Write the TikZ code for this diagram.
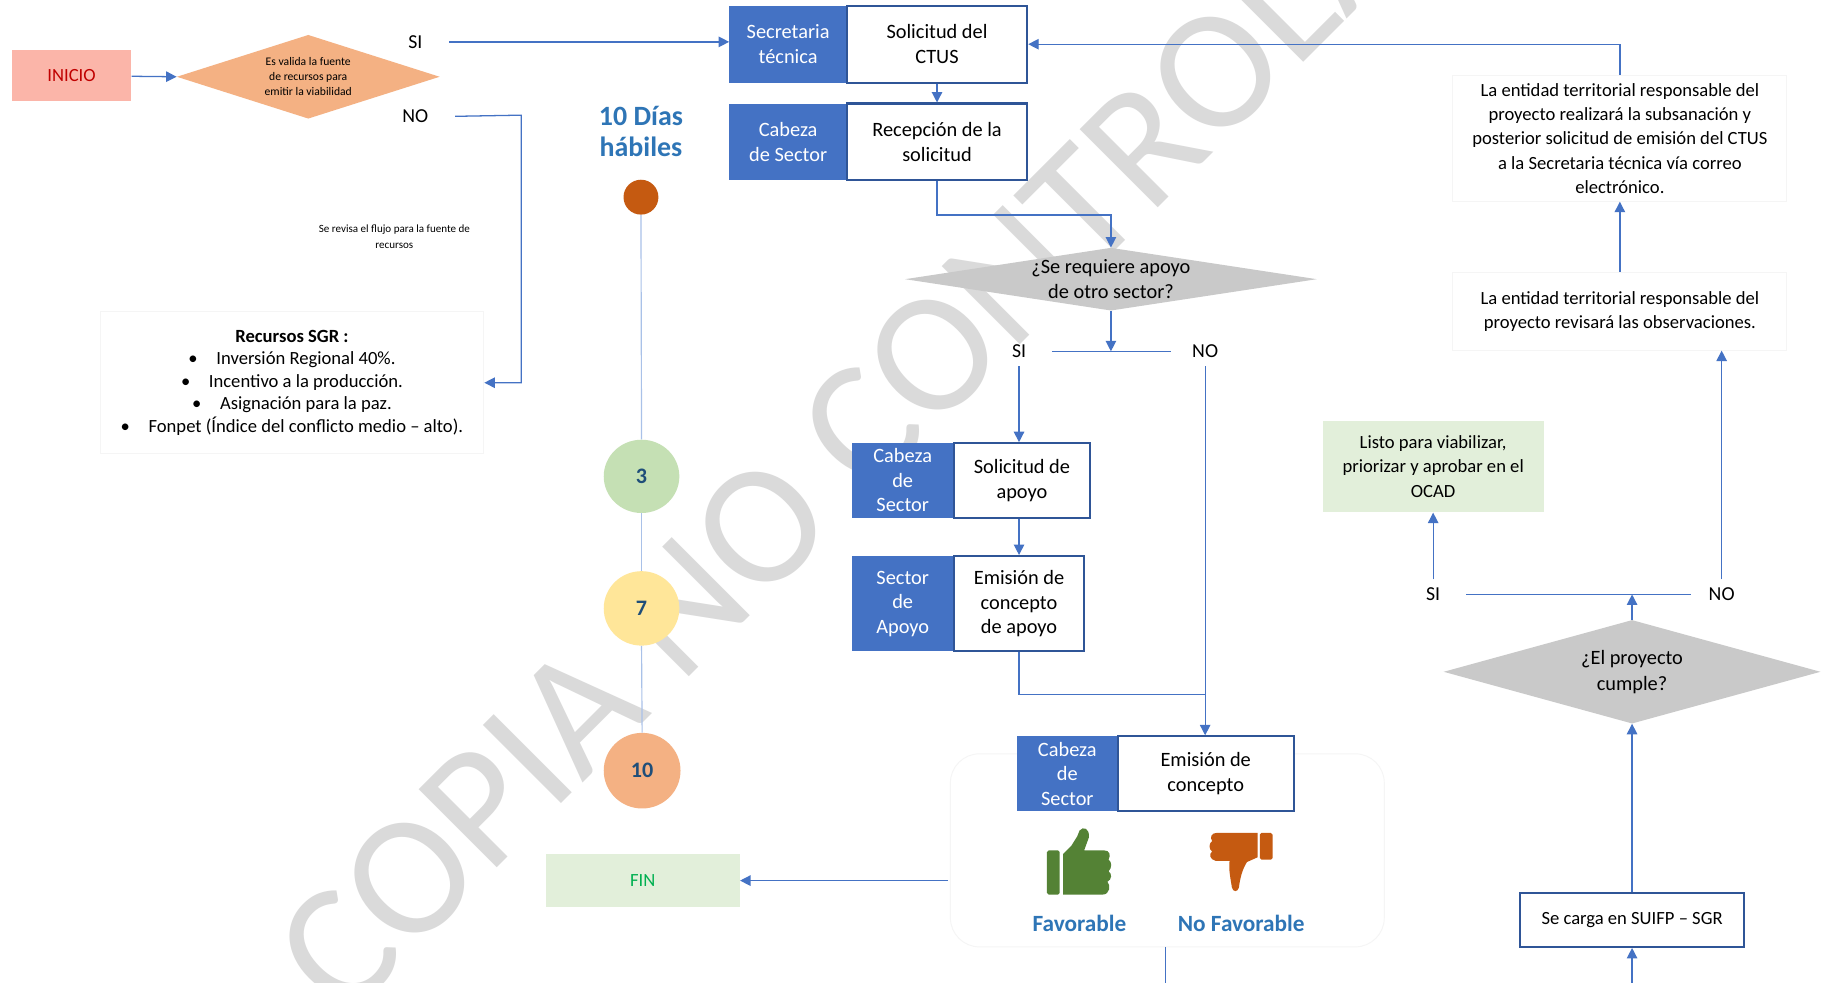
\documentclass[tikz,border=0pt]{standalone}
\usepackage{fontspec}
\setmainfont{Carlito}
\usetikzlibrary{arrows.meta,shapes.geometric,calc}
\definecolor{bfill}{HTML}{4472C4}
\definecolor{bdark}{HTML}{2F5597}
\definecolor{lnblue}{HTML}{4472C4}
\definecolor{tlblue}{HTML}{A9C1E8}
\definecolor{inifill}{HTML}{FBB5A9}
\definecolor{inired}{HTML}{C00000}
\definecolor{orangef}{HTML}{F4B183}
\definecolor{grayd}{HTML}{C9C9C9}
\definecolor{greenf}{HTML}{E2EFDA}
\definecolor{fingreen}{HTML}{00B050}
\definecolor{darkor}{HTML}{C55A11}
\definecolor{cthree}{HTML}{C5E0B4}
\definecolor{cseven}{HTML}{FFE699}
\definecolor{numblue}{HTML}{1F4E79}
\definecolor{txtblue}{HTML}{2E75B6}
\definecolor{thumbg}{HTML}{548235}
\definecolor{wmark}{HTML}{DADADA}
\definecolor{faint}{HTML}{F5F5F5}
\begin{document}
\begin{tikzpicture}[x=1pt,y=-1pt,
  ln/.style={draw=lnblue,line width=1.1pt},
  arr/.style={ln,-{Triangle[length=9pt,width=9pt]}},
  tl/.style={draw=tlblue,line width=1pt},
  lab/.style={fill=bfill,text=white,inner sep=0pt,align=center,font=\fontsize{17.5}{21}\selectfont},
  act/.style={draw=bdark,line width=1.8pt,fill=white,inner sep=0pt,align=center,font=\fontsize{17.5}{21}\selectfont},
  txt/.style={inner sep=0pt,align=center,font=\fontsize{16}{20.8}\selectfont},
  yn/.style={inner sep=0pt,font=\fontsize{17}{20}\selectfont},
  circ/.style={ellipse,inner sep=0pt,font=\bfseries\fontsize{19}{22}\selectfont,text=numblue},
  dia/.style={diamond,inner sep=0pt,aspect=3},
]
\useasboundingbox (0,0) rectangle (1568,845);
\fill[white] (0,0) rectangle (1568,845);
% watermark
\begin{scope}
\clip (0,0) rectangle (1568,845);
\node[rotate=45,anchor=base west,inner sep=0pt,text=wmark,font=\fontsize{148}{148}\selectfont] (wm) at (296,878) {COPIA NO CONTROLADA};
\end{scope}
% faint frames
\draw[faint,line width=0.8pt,rounded corners=25pt] (817,648) rectangle (1190,814);

% start
\node[fill=inifill,minimum width=103pt,minimum height=44pt,inner sep=0pt,text=inired,font=\fontsize{16}{19}\selectfont] (inicio) at (61.5,65) {INICIO};
\node[dia,fill=orangef,minimum width=226pt,minimum height=72pt] (d1) at (265,66) {};
\node[inner sep=0pt,align=center,font=\fontsize{10}{13}\selectfont] (d1t) at (d1.center) {Es valida la fuente\\de recursos para\\emitir la viabilidad};
\node[yn] (si1) at (357,36) {SI};
\node[yn] (no1) at (357,100) {NO};
\node[inner sep=0pt,align=center,font=\fontsize{9.5}{13}\selectfont] (rev) at (339,203.5) {Se revisa el flujo para la fuente de\\recursos};
\node[draw=faint,line width=0.8pt,minimum width=330pt,minimum height=122pt,inner sep=0pt,align=center,font=\fontsize{16}{19.3}\selectfont] (sgr) at (251,329)
 {\textbf{Recursos SGR :}\\
  \textbullet\hspace{16pt}Inversión Regional 40\%.\\
  \textbullet\hspace{16pt}Incentivo a la producción.\\
  \textbullet\hspace{16pt}Asignación para la paz.\\
  \textbullet\hspace{16pt}Fonpet (Índice del conflicto medio -- alto).};

% timeline
\node[inner sep=0pt,align=center,text=txtblue,font=\bfseries\fontsize{24}{26}\selectfont] (dias) at (551,113) {10 Días\\hábiles};
\node[circle,fill=darkor,minimum size=30pt,inner sep=0pt] (c0) at (551,169.5) {};
\node[circ,fill=cthree,minimum width=65pt,minimum height=63pt] (c3) at (551.5,409.5) {3};
\node[circ,fill=cseven,minimum width=65pt,minimum height=64pt] (c7) at (551.5,523) {7};
\node[circ,fill=orangef,minimum width=66pt,minimum height=65pt] (c10) at (552,662.5) {10};
\draw[tl] (c0.south) -- (c3.north);
\draw[tl] (c3.south) -- (c7.north);
\draw[tl] (c7.south) -- (c10.north);

% central column
\node[lab,minimum width=101pt,minimum height=66pt] (st) at (677.5,38) {Secretaria\\técnica};
\node[act,minimum width=155pt,minimum height=66pt] (sc) at (805.5,38) {Solicitud del\\CTUS};
\node[lab,minimum width=101pt,minimum height=66pt] (cs1) at (677.5,122) {Cabeza\\de Sector};
\node[act,minimum width=155pt,minimum height=66pt] (rc) at (805.5,122) {Recepción de la\\solicitud};
\node[dia,fill=grayd,minimum width=354pt,minimum height=54pt] (d2) at (955,240) {};
\node[inner sep=0pt,align=center,font=\fontsize{17.5}{21}\selectfont] (d2t) at (d2.center) {¿Se requiere apoyo\\de otro sector?};
\coordinate (j2) at (955,302);
\node[yn] (si2) at (876,302) {SI};
\node[yn] (no2) at (1036,302) {NO};
\node[lab,minimum width=88pt,minimum height=64pt] (cs2) at (776,413) {Cabeza\\de\\Sector};
\node[act,minimum width=117pt,minimum height=64pt] (sa) at (878.5,413) {Solicitud de\\apoyo};
\node[lab,minimum width=88pt,minimum height=82pt] (sap) at (776,519) {Sector\\de\\Apoyo};
\node[act,minimum width=112pt,minimum height=82pt] (ea) at (876,519) {Emisión de\\concepto\\de apoyo};
\coordinate (jn) at (1036,597);
\node[lab,minimum width=87pt,minimum height=64pt] (cs3) at (917.5,665) {Cabeza\\de\\Sector};
\node[act,minimum width=151pt,minimum height=64pt] (ec) at (1036.5,665) {Emisión de\\concepto};

% thumbs
\fill[thumbg,rounded corners=1.5pt] (900,731) rectangle (911,769);
\fill[thumbg] (914,734) -- (921,727) -- (926,719) -- (928,714) .. controls (931,710) and (937,712) .. (936,720) -- (932,731) -- (949,731)
  .. controls (954,731) and (955,735) .. (953,739) .. controls (956,741) and (956,746) .. (953,749)
  .. controls (956,751) and (956,756) .. (952,758) .. controls (955,761) and (954,769) .. (948,769) -- (914,769) -- cycle;
\fill[darkor,rounded corners=1.5pt] (1083,716) rectangle (1094,739);
\fill[darkor] (1081,716) -- (1046,716) .. controls (1041,716) and (1040,720) .. (1042,723) .. controls (1039,725) and (1039,730) .. (1042,732)
  .. controls (1039,734) and (1040,739) .. (1045,740) -- (1057,740) .. controls (1056,748) and (1058,756) .. (1059,763)
  .. controls (1060,767) and (1064,767) .. (1065,763) .. controls (1066,755) and (1068,747) .. (1072,741) -- (1081,737) -- cycle;
\node[inner sep=0pt,text=txtblue,font=\bfseries\fontsize{20}{24}\selectfont] (fav) at (928,793.5) {Favorable};
\node[inner sep=0pt,text=txtblue,font=\bfseries\fontsize{20}{24}\selectfont] (nofav) at (1067,793.5) {No Favorable};
\node[fill=greenf,minimum width=167pt,minimum height=46pt,inner sep=0pt,text=fingreen,font=\fontsize{16}{19}\selectfont] (fin) at (552.5,757) {FIN};
\coordinate (fa) at (815,757);
\coordinate (b1) at (1002,814);
\coordinate (b2) at (1002,845);

% right column
\node[act,minimum width=192pt,minimum height=46pt,font=\fontsize{16}{19}\selectfont] (suifp) at (1403,791) {Se carga en SUIFP -- SGR};
\coordinate (bot) at (1403,845);
\node[dia,fill=grayd,minimum width=324pt,minimum height=89pt] (d3) at (1403,577.5) {};
\node[inner sep=0pt,align=center,font=\fontsize{17.5}{22}\selectfont] (d3t) at (d3.center) {¿El proyecto\\cumple?};
\coordinate (j3) at (1403,511);
\node[yn] (si3) at (1232,511) {SI};
\node[yn] (no3) at (1480,511) {NO};
\node[txt,fill=greenf,minimum width=190pt,minimum height=79pt] (listo) at (1232,401) {Listo para viabilizar,\\priorizar y aprobar en el\\OCAD};
\node[txt,draw=faint,line width=0.8pt,minimum width=287pt,minimum height=67pt] (obs) at (1392.5,267.5) {La entidad territorial responsable del\\proyecto revisará las observaciones.};
\node[txt,draw=faint,line width=0.8pt,minimum width=287pt,minimum height=108pt] (sub) at (1392.5,119) {La entidad territorial responsable del\\proyecto realizará la subsanación y\\posterior solicitud de emisión del CTUS\\a la Secretaria técnica vía correo\\electrónico.};

% connectors
\draw[arr] (inicio) -- (d1.west);
\draw[arr] ([xshift=23pt]si1.east) -- (si1 -| st.west);
\coordinate (k1) at (448,99);
\draw[arr] ([xshift=23pt]no1.east) -- (k1) |- (sgr.east);
\draw[arr] (sc.south) -- (rc.north);
\draw[arr] (rc.south) -- ++(0,29) -| (d2.north);
\draw[arr] (d2.south) -- (j2);
\draw[ln] ([xshift=22pt]si2.east) -- ([xshift=-18pt]no2.west);
\draw[arr] ([yshift=-13pt]si2.center) -- (si2 |- sa.north);
\draw[arr] (sa.south -| ea.north) -- (ea.north);
\draw[ln] (ea.south) |- (jn);
\draw[arr] ([yshift=-13pt]no2.center) -- (no2 |- ec.north);
\draw[arr] (fa) -- (fin.east);
\draw[ln] (b1) -- (b2);
\draw[arr] (bot) -- (suifp.south);
\draw[arr] (suifp.north) -- (d3.south);
\draw[arr] (d3.north) -- (j3);
\draw[ln] ([xshift=22pt]si3.east) -- ([xshift=-15pt]no3.west);
\draw[arr] ([yshift=13pt]si3.center) -- (si3 |- listo.south);
\draw[arr] ([yshift=13pt]no3.center) -- (no3 |- obs.south);
\draw[arr] (obs.north) -- (sub.south);
\draw[arr] (sub.north) |- (sc.east);
\end{tikzpicture}
\end{document}
